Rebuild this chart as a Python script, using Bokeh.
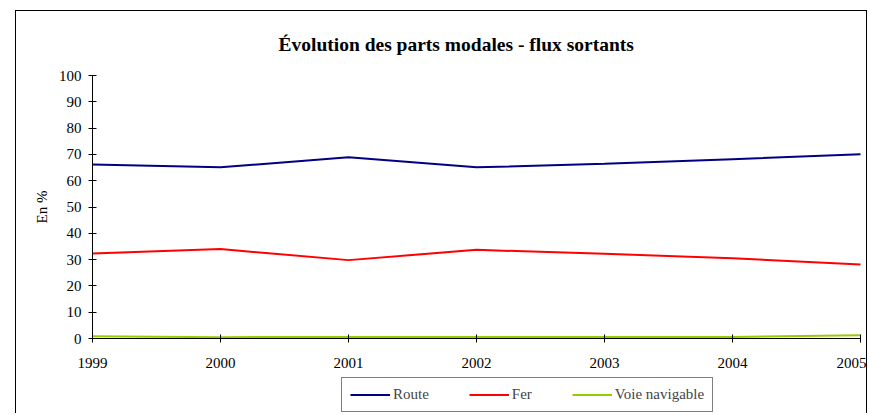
from bokeh.plotting import figure
from bokeh.models import (ColumnDataSource, Legend, LegendItem, FixedTicker, Range1d,
                          LinearAxis, Label)
from bokeh.embed import file_html
from bokeh.resources import INLINE

years = [1999, 2000, 2001, 2002, 2003, 2004, 2005]
route = [66.2, 65.1, 68.9, 65.1, 66.4, 68.2, 70.1]
fer = [32.3, 34.0, 29.8, 33.7, 32.2, 30.5, 28.1]
voie = [0.9, 0.5, 0.6, 0.6, 0.6, 0.6, 1.2]
y_ticks = [0, 10, 20, 30, 40, 50, 60, 70, 80, 90, 100]

FONT = "Liberation Serif"

# layout (pixels): canvas x 16..868, frame top 63, y=100 at 75, y=0 at 338,
# 1999 at x=92, 2005 at x=860
PX_PER_YEAR = 128.0
PX_PER_UNIT = 2.63
x_lo = years[0] - 76 / PX_PER_YEAR
x_hi = years[-1] + 8 / PX_PER_YEAR
y_lo = -76 / PX_PER_UNIT
y_hi = 100 + 12 / PX_PER_UNIT

p = figure(width=852, height=403, output_backend="svg", toolbar_location=None,
           x_range=Range1d(x_lo, x_hi), y_range=Range1d(y_lo, y_hi),
           x_axis_location=None, y_axis_location=None,
           min_border_left=0, min_border_right=0, min_border_top=52, min_border_bottom=0,
           margin=(10, 0, 0, 15),
           styles={"border-left": "1px solid black", "border-top": "1px solid black",
                   "border-right": "1px solid black"})

p.title.text = "Évolution des parts modales - flux sortants"
p.title.text_font = FONT
p.title.text_font_size = "19.5px"
p.title.text_font_style = "bold"
p.title.text_color = "black"
p.title.align = "left"
p.title.offset = 262
p.title.standoff = 18

p.outline_line_color = None
p.xgrid.grid_line_color = None
p.ygrid.grid_line_color = None

src = ColumnDataSource(dict(x=years, route=route, fer=fer, voie=voie))
r1 = p.line("x", "route", source=src, line_color="#000080", line_width=2)
r2 = p.line("x", "fer", source=src, line_color="#FF0000", line_width=2)
r3 = p.line("x", "voie", source=src, line_color="#99CC00", line_width=2)

xax = LinearAxis(fixed_location=0, ticker=FixedTicker(ticks=years),
                 bounds=(years[0], years[-1]))
p.add_layout(xax, "below")
yax = LinearAxis(fixed_location=years[0], ticker=FixedTicker(ticks=y_ticks),
                 bounds=(0, 100))
p.add_layout(yax, "left")

for ax in (xax, yax):
    ax.axis_line_color = "black"
    ax.major_tick_line_color = "black"
    ax.major_tick_in = 4
    ax.major_tick_out = 4
    ax.minor_tick_line_color = None
    ax.major_label_text_font = FONT
    ax.major_label_text_font_size = "15px"
    ax.major_label_text_color = "black"

xax.major_label_standoff = 15
yax.major_label_standoff = 7

ylabel = Label(x=x_lo + 25.5 / PX_PER_YEAR, y=50, text="En %",
               angle=90, angle_units="deg", text_align="center", text_baseline="middle",
               text_font=FONT, text_font_size="15px", text_color="black")
p.add_layout(ylabel)

legend = Legend(items=[LegendItem(label="Route", renderers=[r1]),
                       LegendItem(label="Fer", renderers=[r2]),
                       LegendItem(label="Voie navigable", renderers=[r3])],
                orientation="horizontal", location=(325, 2),
                glyph_width=40, glyph_height=17, label_height=17,
                label_standoff=3, spacing=40, padding=8, margin=0,
                label_text_font=FONT, label_text_font_size="15px",
                border_line_color="black", border_line_width=1,
                background_fill_alpha=1)
p.add_layout(legend, "center")

open("out.html", "w").write(file_html(p, INLINE))
